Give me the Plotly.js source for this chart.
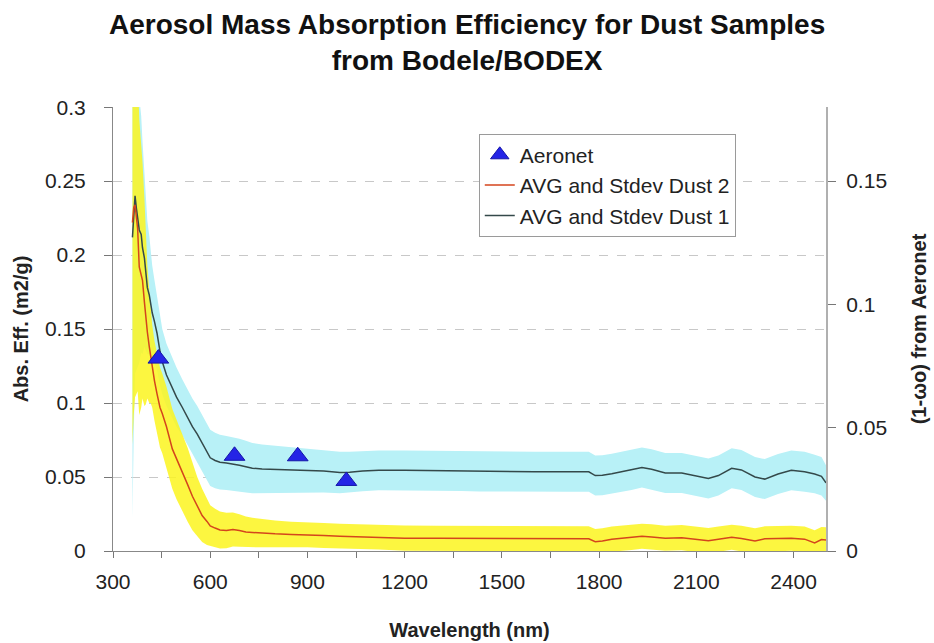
<!DOCTYPE html>
<html>
<head>
<meta charset="utf-8">
<script src="https://cdn.plot.ly/plotly-3.0.1.min.js"></script>
<style>html,body{margin:0;padding:0;background:#fff;}#chart{width:934px;height:643px;}</style>
</head>
<body>
<div id="chart"></div>
<script>
// Wavelength grid (nm) shared by both dust sample averages
const wavelength = [360,364,368,372,376,381,387,391,397,401,406,412,416,421,428,436,445,452,465,483,496,514,530,545,560,575,590,600,615,630,650,670,690,710,730,760,800,850,900,950,1000,1030,1070,1120,1200,1300,1375,1430,1500,1600,1700,1768,1788,1810,1839,1870,1900,1932,1962,2004,2055,2096,2137,2168,2209,2239,2281,2311,2352,2393,2434,2465,2486,2500];

// Dust 1 average and standard deviation (m2/g)
const dust1Avg = [0.212,0.228,0.240,0.232,0.224,0.217,0.214,0.205,0.198,0.188,0.178,0.173,0.167,0.161,0.155,0.147,0.135,0.128,0.119,0.110,0.104,0.097,0.090,0.084,0.079,0.073,0.067,0.063,0.0612,0.060,0.0595,0.059,0.058,0.057,0.056,0.0555,0.0552,0.0548,0.0543,0.0540,0.0530,0.0532,0.0540,0.0545,0.0545,0.0542,0.0540,0.0537,0.0536,0.0535,0.0536,0.0535,0.0510,0.0512,0.0522,0.0535,0.0548,0.0565,0.0552,0.0527,0.0527,0.0510,0.0490,0.0510,0.0559,0.0548,0.0500,0.0486,0.0520,0.0545,0.0535,0.0520,0.0505,0.0460];
const dust1Std = [0.19,0.15,0.12,0.11,0.10,0.09,0.08,0.072,0.06,0.052,0.045,0.04,0.036,0.032,0.028,0.025,0.023,0.022,0.021,0.020,0.020,0.019,0.019,0.019,0.019,0.019,0.019,0.019,0.0188,0.0185,0.0182,0.018,0.0178,0.0175,0.017,0.0165,0.016,0.0155,0.015,0.0145,0.014,0.0138,0.0136,0.0135,0.0135,0.0135,0.0135,0.0135,0.0135,0.0135,0.0135,0.0135,0.0135,0.0135,0.0135,0.0135,0.0135,0.0135,0.0135,0.0135,0.0135,0.0135,0.0135,0.0135,0.0135,0.0135,0.0135,0.0135,0.0135,0.0135,0.0135,0.013,0.013,0.012];

// Dust 2 average and standard deviation (m2/g)
const dust2Avg = [0.222,0.232,0.234,0.226,0.218,0.192,0.187,0.183,0.168,0.157,0.148,0.138,0.132,0.125,0.115,0.106,0.097,0.093,0.084,0.069,0.062,0.053,0.045,0.037,0.030,0.024,0.020,0.017,0.0155,0.0142,0.0138,0.0145,0.0138,0.0128,0.0125,0.0120,0.0116,0.0112,0.0110,0.0105,0.0100,0.0098,0.0097,0.0095,0.0087,0.0086,0.0085,0.0083,0.0083,0.0083,0.0083,0.0082,0.0063,0.0068,0.0080,0.0086,0.0092,0.0100,0.0095,0.0086,0.0090,0.0078,0.0070,0.0080,0.0093,0.0085,0.0068,0.0082,0.0086,0.0086,0.0080,0.0055,0.0078,0.0075];
const dust2Std = [0.15,0.14,0.13,0.12,0.11,0.10,0.09,0.08,0.07,0.058,0.045,0.038,0.032,0.028,0.027,0.027,0.027,0.027,0.027,0.027,0.027,0.026,0.025,0.023,0.02,0.018,0.016,0.014,0.013,0.0125,0.012,0.0115,0.011,0.0105,0.010,0.0095,0.009,0.0085,0.0085,0.0085,0.0085,0.0085,0.0085,0.0085,0.0085,0.0085,0.0085,0.0085,0.0085,0.0085,0.0085,0.0085,0.0085,0.0085,0.0085,0.0085,0.0085,0.0085,0.0085,0.0085,0.0085,0.0085,0.0085,0.0085,0.0085,0.0085,0.0085,0.0085,0.0085,0.0085,0.0085,0.0085,0.0085,0.0085];

// Aeronet (1 - single scattering albedo)
const aeronetWavelength = [440,675,870,1020];
const aeronetValue = [0.078,0.0386,0.0384,0.0284];

const xTickVals = [300,600,900,1200,1500,1800,2100,2400];

function band(avg, sd) {
  const up = avg.map((v,i)=>v+sd[i]);
  const lo = avg.map((v,i)=>v-sd[i]);
  return {
    x: wavelength.concat(wavelength.slice().reverse()),
    y: up.concat(lo.slice().reverse())
  };
}
const b1 = band(dust1Avg, dust1Std);
const b2 = band(dust2Avg, dust2Std);

const FONT = '"Liberation Sans", Arial, Helvetica, sans-serif';

const traces = [
  {x:b1.x, y:b1.y, type:'scatter', mode:'lines', fill:'toself', fillcolor:'rgb(184,241,247)', line:{width:0,color:'rgba(0,0,0,0)'}, showlegend:false, hoverinfo:'skip'},
  {x:b2.x, y:b2.y, type:'scatter', mode:'lines', fill:'toself', fillcolor:'rgba(252,244,30,0.85)', line:{width:0,color:'rgba(0,0,0,0)'}, showlegend:false, hoverinfo:'skip'},
  {x:wavelength, y:dust1Avg, type:'scatter', mode:'lines', name:'AVG and Stdev Dust 1', line:{color:'#34494a', width:1.5}},
  {x:wavelength, y:dust2Avg, type:'scatter', mode:'lines', name:'AVG and Stdev Dust 2', line:{color:'#d4451c', width:1.5}},
  {x:aeronetWavelength, y:aeronetValue, type:'scatter', mode:'markers', name:'Aeronet', yaxis:'y2', marker:{symbol:'triangle-up', size:18, color:'#2424e6', line:{color:'#1515a8', width:1}}}
];

const layout = {
  width:934, height:643,
  margin:{l:113, r:108, t:107, b:92},
  paper_bgcolor:'#fff', plot_bgcolor:'#fff',
  font:{family:FONT, color:'#222'},
  annotations:[{
    text:'<b>Aerosol Mass Absorption Efficiency for Dust Samples<br>from Bodele/BODEX</b>',
    xref:'paper', yref:'paper', x:0.4965, y:1.225, xanchor:'center', yanchor:'top',
    showarrow:false, font:{size:28, color:'#111', family:FONT}, align:'center'
  }],
  showlegend:true,
  legend:{x:0.513, y:0.94, xanchor:'left', yanchor:'top', traceorder:'reversed', bgcolor:'#fff', bordercolor:'#9a9a9a', borderwidth:1, font:{size:21, family:FONT, color:'#222'}, tracegroupgap:0},
  xaxis:{range:[300,2500], tickvals:xTickVals, ticks:'outside', ticklen:6, tickcolor:'#777', ticklabelstandoff:6, showline:true, linecolor:'#888', linewidth:1, showgrid:false, zeroline:false, tickfont:{size:21}, minor:{dtick:150, tick0:300, ticks:'outside', ticklen:6, tickcolor:'#777', showgrid:false},
    title:{text:'<b>Wavelength (nm)</b>', font:{size:20}, standoff:30}},
  yaxis:{range:[0,0.3001], dtick:0.05, tick0:0, ticks:'outside', ticklen:8, tickcolor:'#777', ticklabelstandoff:14, showline:true, linecolor:'#888', linewidth:1, showgrid:true, gridcolor:'#c8c8c8', griddash:'dash', gridwidth:1, zeroline:false, tickfont:{size:21},
    title:{text:'<b>Abs. Eff. (m2/g)</b>', font:{size:20}, standoff:10}},
  yaxis2:{range:[0,0.18], dtick:0.05, tick0:0, overlaying:'y', side:'right', ticks:'outside', ticklen:8, tickcolor:'#777', ticklabelstandoff:6, showline:true, linecolor:'#b0b0b0', linewidth:2, showgrid:false, zeroline:false, tickfont:{size:21},
    title:{text:'<b>(1-ωo) from Aeronet</b>', font:{size:20}, standoff:26}}
};

Plotly.newPlot('chart', traces, layout, {displayModeBar:false, staticPlot:true});
</script>
</body>
</html>
